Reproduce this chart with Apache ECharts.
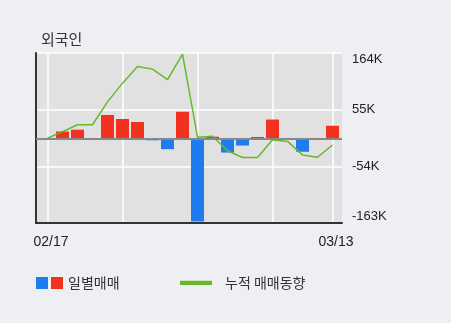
<!DOCTYPE html>
<html><head><meta charset="utf-8">
<script src="https://cdn.jsdelivr.net/npm/echarts@6/dist/echarts.min.js"></script>
<style>html,body{margin:0;padding:0;background:#eeeff2;}#c{width:451px;height:323px;}</style>
</head><body><div id="c"></div>
<script>
// trading days (categories)
var dates = ['02/17','02/18','02/19','02/20','02/21','02/24','02/25','02/26','02/27','02/28',
             '03/02','03/03','03/04','03/05','03/06','03/09','03/10','03/11','03/12','03/13'];
// daily net buying (K shares)
var daily = [0, 13, 16.5, 0, 44.8, 37, 31.3, -4, -21, 51, -160, 3, -27.5, -14, 2.5, 36, -3, -26, -2.5, 24];
// cumulative net buying (K shares)
var cumulative = [0, 12.7, 26, 26, 70, 106, 138, 133, 112.7, 162, 2, 4, -24, -37, -37, -3, -6, -32, -36.5, -13];
// y tick values and labels
var yTickValues = [-163, -54, 55, 164];
var yTickLabels = ['-163K', '-54K', '55K', '164K'];
// x grid line positions and labelled positions (category indexes)
var xGridIdx = [0, 5, 10, 15, 19];
var xLabelIdx = [0, 19];

var RED = '#f2321f', BLUE = '#1f7cf0', GREEN = '#67b82b';
var font = "'Noto Sans CJK KR', 'Liberation Sans', sans-serif";

var barIcon = 'image://data:image/svg+xml;utf8,' + encodeURIComponent(
  '<svg xmlns="http://www.w3.org/2000/svg" width="27" height="12" viewBox="0 0 27 12">' +
  '<rect x="0" y="0" width="12" height="12" fill="' + BLUE + '"/>' +
  '<rect x="15" y="0" width="12" height="12" fill="' + RED + '"/></svg>');
var lineIcon = 'image://data:image/svg+xml;utf8,' + encodeURIComponent(
  '<svg xmlns="http://www.w3.org/2000/svg" width="40" height="5" viewBox="0 0 40 5">' +
  '<rect x="0" y="0" width="32" height="5" fill="' + GREEN + '"/></svg>');

var chart = echarts.init(document.getElementById('c'), null, {renderer: 'canvas'});
chart.setOption({
  backgroundColor: '#eeeff2',
  animation: false,
  title: {
    text: '외국인', left: 36, top: 27,
    textStyle: {fontSize: 15, fontWeight: 'normal', color: '#333', fontFamily: font}
  },
  legend: [{
    left: 36, top: 276, padding: 0,
    data: [{name: '일별매매', icon: barIcon}],
    itemWidth: 27, itemHeight: 12,
    textStyle: {fontSize: 14, color: '#333', fontFamily: font}
  }, {
    left: 180, top: 276, padding: 0,
    data: [{name: '누적 매매동향', icon: lineIcon}],
    itemWidth: 40, itemHeight: 5,
    textStyle: {fontSize: 14, color: '#333', fontFamily: font}
  }],
  grid: {
    left: 36, right: 109, top: 53, bottom: 100,
    show: true, backgroundColor: '#e1e1e1', borderWidth: 0
  },
  xAxis: {
    type: 'value', min: -0.767, max: 19.633,
    axisLine: {show: true, onZero: false, lineStyle: {color: '#333', width: 2}},
    axisTick: {show: false, customValues: xGridIdx},
    splitLine: {show: true, lineStyle: {color: '#ffffff', width: 1.5}},
    axisLabel: {
      customValues: xLabelIdx, margin: 12, padding: [0, 0, 0, 7],
      fontSize: 14, color: '#222', fontFamily: "'Liberation Sans', sans-serif",
      formatter: function (v) { return dates[Math.round(v)]; }
    }
  },
  yAxis: [{
    type: 'value', min: -163, max: 164, position: 'right',
    axisLine: {show: false},
    axisTick: {show: false, customValues: yTickValues},
    splitLine: {show: true, lineStyle: {color: '#ffffff', width: 1.5}},
    axisLabel: {
      customValues: yTickValues, margin: 10,
      fontSize: 13, color: '#222', fontFamily: "'Liberation Sans', sans-serif",
      verticalAlignMaxLabel: 'top', verticalAlignMinLabel: 'bottom',
      formatter: function (v) { return yTickLabels[yTickValues.indexOf(Math.round(v))]; }
    }
  }, {
    type: 'value', min: -163, max: 164, position: 'left',
    axisLine: {show: true, lineStyle: {color: '#333', width: 2}},
    axisTick: {show: false}, axisLabel: {show: false}, splitLine: {show: false}
  }],
  series: [{
    name: '일별매매', type: 'bar', barWidth: 13,
    data: daily.map(function (v, i) { return [i, v]; }),
    itemStyle: {color: function (p) { return p.value[1] >= 0 ? RED : BLUE; }},
    markLine: {
      silent: true, symbol: 'none', label: {show: false},
      lineStyle: {color: '#888', width: 2, type: 'solid'},
      data: [{yAxis: 0}]
    }
  }, {
    name: '누적 매매동향', type: 'line', symbol: 'none',
    data: cumulative.map(function (v, i) { return [i, v]; }),
    lineStyle: {color: GREEN, width: 1.5}, itemStyle: {color: GREEN}, z: 3
  }]
});
</script></body></html>
